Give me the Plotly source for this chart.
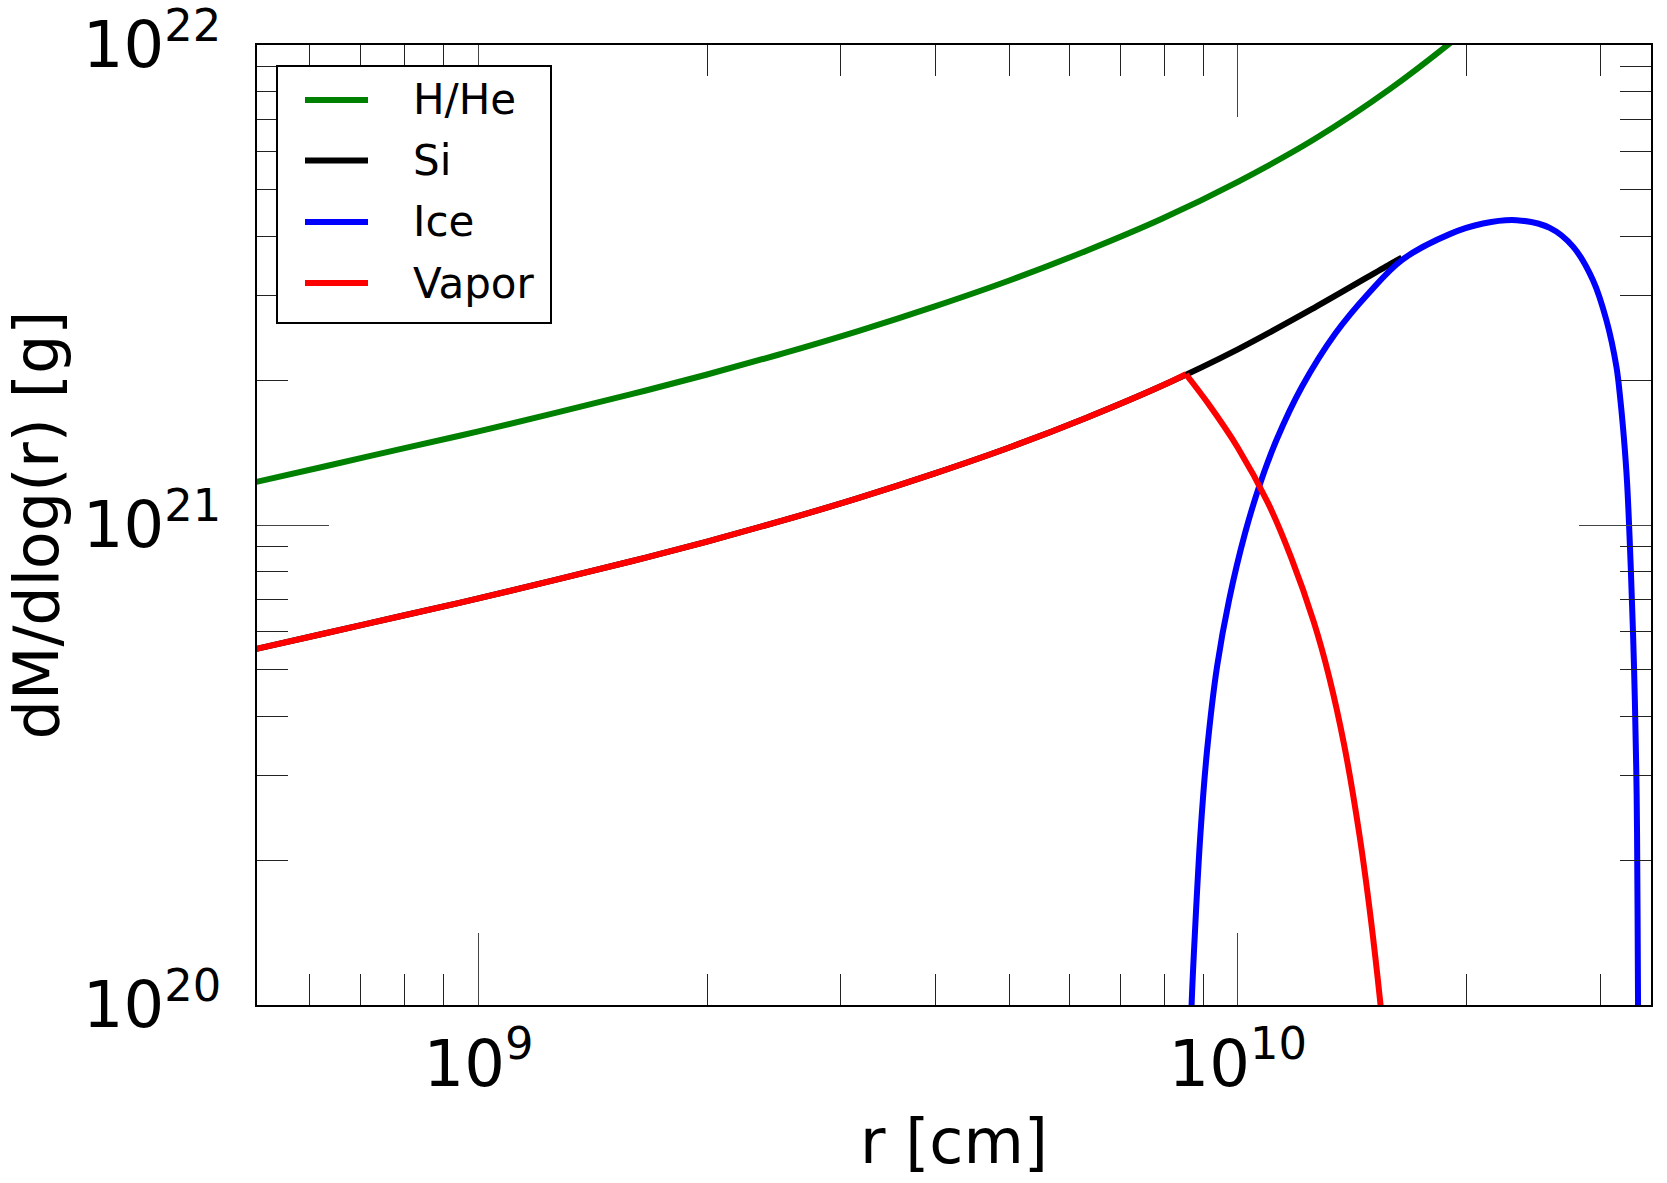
import numpy as np
import plotly.graph_objects as go

# ---------------- data ----------------
series_names = ["H/He", "Si", "Ice", "Vapor"]
series_colors = ["#008000", "#000000", "#0000ff", "#ff0000"]

# H/He
r_hhe = [5.01e8, 6.31e8, 7.94e8, 1.0e9, 1.259e9, 1.585e9, 1.995e9, 2.512e9, 3.162e9,
         3.981e9, 5.012e9, 6.310e9, 7.943e9, 1.0e10, 1.259e10, 1.585e10, 1.995e10, 2.512e10]
m_hhe = [1.2218e21, 1.3274e21, 1.4421e21, 1.5668e21, 1.7100e21, 1.8707e21, 2.0559e21,
         2.2751e21, 2.5351e21, 2.8510e21, 3.2359e21, 3.7239e21, 4.3451e21, 5.1880e21,
         6.3533e21, 8.091e21, 1.0715e22, 1.4622e22]

# Si (total silicate)
r_si = [5.01e8, 6.31e8, 7.94e8, 1.0e9, 1.259e9, 1.585e9, 1.995e9, 2.512e9, 3.162e9,
        3.981e9, 5.012e9, 6.310e9, 7.943e9, 1.0e10, 1.259e10, 1.585e10, 1.644e10]
m_si = [5.483e20, 5.957e20, 6.471e20, 7.031e20, 7.674e20, 8.395e20, 9.226e20, 1.0209e21,
        1.1376e21, 1.2794e21, 1.4521e21, 1.6711e21, 1.9498e21, 2.3227e21, 2.8314e21,
        3.4914e21, 3.6058e21]

# Ice
r_ice = [8.660e9, 8.692e9, 8.779e9, 8.929e9, 9.110e9, 9.389e9, 9.739e9, 1.0221e10,
         1.0703e10, 1.1243e10, 1.2144e10, 1.3439e10, 1.4866e10, 1.6444e10, 1.9011e10,
         2.1030e10, 2.3276e10, 2.5747e10, 2.7632e10, 2.9355e10, 3.0569e10, 3.1512e10,
         3.1900e10, 3.2240e10, 3.2554e10, 3.2915e10, 3.3243e10, 3.3466e10, 3.3550e10,
         3.3651e10, 3.3682e10]
m_ice = [7.67e19, 1.000e20, 1.409e20, 2.280e20, 3.396e20, 5.070e20, 6.982e20, 9.616e20,
         1.2218e21, 1.5031e21, 1.9409e21, 2.5061e21, 3.0409e21, 3.5645e21, 4.0365e21,
         4.2462e21, 4.3152e21, 4.1591e21, 3.8019e21, 3.2359e21, 2.6730e21, 2.1380e21,
         1.8197e21, 1.5171e21, 1.2218e21, 8.185e20, 5.070e20, 3.133e20, 2.280e20,
         1.000e20, 7.67e19]

# Vapor
r_vap = [5.01e8, 6.31e8, 7.94e8, 1.0e9, 1.259e9, 1.585e9, 1.995e9, 2.512e9, 3.162e9,
         3.981e9, 5.012e9, 6.310e9, 7.943e9, 8.545e9,
         9.120e9, 1.0e10, 1.0965e10, 1.1749e10, 1.2589e10, 1.3183e10, 1.3804e10,
         1.4454e10, 1.4962e10, 1.5488e10, 1.5849e10]
m_vap = [5.483e20, 5.957e20, 6.471e20, 7.031e20, 7.674e20, 8.395e20, 9.226e20, 1.0209e21,
         1.1376e21, 1.2794e21, 1.4521e21, 1.6711e21, 1.9498e21, 2.061e21,
         1.7989e21, 1.4488e21, 1.1092e21, 8.570e20, 6.281e20, 4.842e20, 3.483e20,
         2.270e20, 1.517e20, 9.31e19, 6.34e19]

x_major = [1e9, 1e10]
x_major_text = ["10<sup>9</sup>", "10<sup>10</sup>"]
x_minor = [6e8, 7e8, 8e8, 9e8, 2e9, 3e9, 4e9, 5e9, 6e9, 7e9, 8e9, 9e9, 2e10, 3e10]
y_major = [1e20, 1e21, 1e22]
y_major_text = ["10<sup>20</sup>", "10<sup>21</sup>", "10<sup>22</sup>"]
y_minor = [2e20, 3e20, 4e20, 5e20, 6e20, 7e20, 8e20, 9e20,
           2e21, 3e21, 4e21, 5e21, 6e21, 7e21, 8e21, 9e21]

x_range = [5.11e8, 3.5e10]
y_range = [1e20, 1e22]

# ---------------- figure ----------------
FONT = "DejaVu Sans"
LW = 6
fig = go.Figure()


def add_line(x, y, name, color):
    fig.add_trace(go.Scatter(x=x, y=y, mode="lines", name=name, showlegend=False,
                             line=dict(color=color, width=LW, shape="spline", smoothing=1.0)))


add_line(r_hhe, m_hhe, series_names[0], series_colors[0])
add_line(r_si, m_si, series_names[1], series_colors[1])
add_line(r_ice, m_ice, series_names[2], series_colors[2])
k = int(np.argmax(m_vap))
add_line(r_vap[:k + 1], m_vap[:k + 1], series_names[3], series_colors[3])
add_line(r_vap[k:], m_vap[k:], series_names[3], series_colors[3])

W, H = 1667, 1183
ML, MR, MT, MB = 257, 16, 45, 178
PW, PH = W - ML - MR, H - MT - MB


def px2paper(px, py):
    return (px - ML) / PW, 1 - (py - MT) / PH


axis_common = dict(
    type="log", showgrid=False, zeroline=False,
    showline=True, linecolor="black", linewidth=2, mirror="allticks",
    ticks="inside", ticklen=72, tickwidth=1, tickcolor="#444444",
    tickfont=dict(family=FONT, size=64, color="black"),
    tickmode="array",
)

eps = 1e-6
fig.update_xaxes(
    **axis_common,
    range=[np.log10(x_range[0]), np.log10(x_range[1])],
    tickvals=x_major, ticktext=x_major_text,
    minor=dict(tickmode="array", tickvals=x_minor, ticks="inside", ticklen=31,
               tickwidth=1, tickcolor="#222222"),
    ticklabelstandoff=2,
    title=dict(text="r [cm]", font=dict(family=FONT, size=62, color="black"), standoff=20),
)
fig.update_yaxes(
    **axis_common,
    range=[np.log10(y_range[0]) - eps, np.log10(y_range[1]) + eps],
    tickvals=y_major, ticktext=y_major_text,
    minor=dict(tickmode="array", tickvals=y_minor, ticks="inside", ticklen=31,
               tickwidth=1, tickcolor="#222222"),
    ticklabelstandoff=21,
    ticklabeloverflow="allow",
    title=dict(text="dM/dlog(r) [g]", font=dict(family=FONT, size=62, color="black"), standoff=12),
)

# legend box (drawn manually to match the reference proportions)
shapes = []
annotations = []
bx0, by0 = px2paper(277, 66)
bx1, by1 = px2paper(551, 323)
shapes.append(dict(type="rect", xref="paper", yref="paper", x0=bx0, x1=bx1, y0=by1, y1=by0,
                   line=dict(color="black", width=2), fillcolor="white", layer="above"))
row_y = [100, 160.5, 222, 283]
for name, col, ry in zip(series_names, series_colors, row_y):
    lx0, ly = px2paper(305, ry)
    lx1, _ = px2paper(368, ry)
    shapes.append(dict(type="line", xref="paper", yref="paper", x0=lx0, x1=lx1, y0=ly, y1=ly,
                       line=dict(color=col, width=LW), layer="above"))
    tx, _ = px2paper(411, ry)
    annotations.append(dict(xref="paper", yref="paper", x=tx, y=ly, xanchor="left",
                            yanchor="middle", text=name, showarrow=False,
                            font=dict(family=FONT, size=42, color="black")))

fig.update_layout(
    width=W, height=H,
    margin=dict(l=ML, r=MR, t=MT, b=MB, autoexpand=False),
    paper_bgcolor="white", plot_bgcolor="white",
    font=dict(family=FONT, color="black"),
    shapes=shapes, annotations=annotations,
    showlegend=False,
)

fig.write_html("out.html")
